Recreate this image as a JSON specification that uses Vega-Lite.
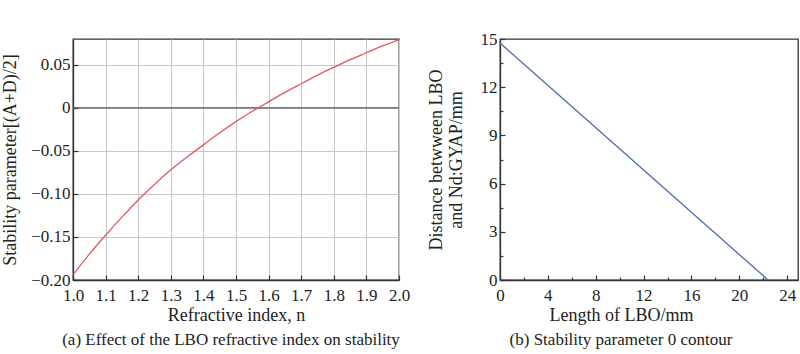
{
  "$schema": "https://vega.github.io/schema/vega-lite/v6.json",
  "padding": {"left": 1, "top": 29, "right": 2, "bottom": 2},
  "background": "white",
  "config": {
    "font": "Liberation Serif",
    "view": {"stroke": "#333333", "strokeWidth": 1.3},
    "axis": {
      "labelFont": "Liberation Serif",
      "titleFont": "Liberation Serif",
      "labelFontSize": 17,
      "titleFontSize": 18,
      "titleFontWeight": "normal",
      "labelColor": "#222222",
      "titleColor": "#222222",
      "domainColor": "#333333",
      "domainWidth": 1.3,
      "tickColor": "#333333",
      "tickWidth": 1.2
    },
    "title": {"font": "Liberation Serif", "fontSize": 17, "fontWeight": "normal", "color": "#222222"}
  },
  "datasets": {
    "stab": [
      {"n": 1.0, "s": -0.194},
      {"n": 1.05, "s": -0.170},
      {"n": 1.1, "s": -0.148},
      {"n": 1.15, "s": -0.127},
      {"n": 1.2, "s": -0.107},
      {"n": 1.25, "s": -0.089},
      {"n": 1.3, "s": -0.072},
      {"n": 1.35, "s": -0.057},
      {"n": 1.4, "s": -0.043},
      {"n": 1.45, "s": -0.029},
      {"n": 1.5, "s": -0.016},
      {"n": 1.55, "s": -0.004},
      {"n": 1.6, "s": 0.007},
      {"n": 1.65, "s": 0.018},
      {"n": 1.7, "s": 0.028},
      {"n": 1.75, "s": 0.038},
      {"n": 1.8, "s": 0.047},
      {"n": 1.85, "s": 0.056},
      {"n": 1.9, "s": 0.064},
      {"n": 1.95, "s": 0.072},
      {"n": 2.0, "s": 0.079}
    ],
    "zero": [{"z": 0}],
    "contour": [
      {"L": 0, "d": 14.75},
      {"L": 22.4, "d": 0}
    ]
  },
  "hconcat": [
    {
      "width": 326,
      "height": 241,
      "title": {"text": "(a) Effect of the LBO refractive index on stability", "orient": "bottom", "dx": -5, "offset": 8},
      "layer": [
        {
          "data": {"name": "zero"},
          "mark": {"type": "rule", "color": "#555555", "strokeWidth": 1.2},
          "encoding": {"y": {"field": "z", "type": "quantitative", "scale": {"domain": [-0.2, 0.08], "nice": false, "zero": false}}}
        },
        {
          "data": {"name": "stab"},
          "mark": {"type": "line", "color": "#e05a5c", "strokeWidth": 1.3, "interpolate": "monotone", "clip": true},
          "encoding": {
            "x": {
              "field": "n", "type": "quantitative",
              "scale": {"domain": [1.0, 2.0], "nice": false, "zero": false},
              "axis": {
                "title": "Refractive index, n",
                "values": [1.0, 1.1, 1.2, 1.3, 1.4, 1.5, 1.6, 1.7, 1.8, 1.9, 2.0],
                "format": ".1f",
                "tickSize": -5,
                "labelPadding": 12,
                "titlePadding": 3,
                "grid": true,
                "gridColor": "#c8c8c8",
                "gridWidth": 1,
                "labelFlush": false
              }
            },
            "y": {
              "field": "s", "type": "quantitative",
              "scale": {"domain": [-0.2, 0.08], "nice": false, "zero": false},
              "axis": {
                "title": "Stability parameter[(A+D)/2]",
                "values": [-0.2, -0.15, -0.1, -0.05, 0, 0.05],
                "labelExpr": "datum.value == 0 ? '0' : format(datum.value, '.2f')",
                "tickSize": -5,
                "labelPadding": 8,
                "titlePadding": 11,
                "grid": true,
                "gridColor": "#c8c8c8",
                "gridWidth": 1,
                "labelFlush": false
              }
            }
          }
        }
      ]
    },
    {
      "width": 298,
      "height": 241,
      "title": {"text": "(b) Stability parameter 0 contour", "orient": "bottom", "dx": -28, "offset": 8},
      "data": {"name": "contour"},
      "layer": [
        {
          "mark": {"type": "line", "color": "#4a6cb3", "strokeWidth": 1.3},
          "encoding": {
            "x": {
              "field": "L", "type": "quantitative",
              "scale": {"domain": [0, 24.9], "nice": false},
              "axis": {
                "title": "Length of LBO/mm",
                "values": [0, 4, 8, 12, 16, 20, 24],
                "tickSize": -5,
                "labelPadding": 12,
                "titlePadding": 3,
                "titleX": 121,
                "grid": false,
                "labelFlush": false
              }
            },
            "y": {
              "field": "d", "type": "quantitative",
              "scale": {"domain": [0, 15], "nice": false},
              "axis": {
                "title": ["Distance betwween LBO", "and Nd:GYAP/mm"],
                "titleLineHeight": 20,
                "values": [0, 3, 6, 9, 12, 15],
                "tickSize": -5,
                "labelPadding": 8,
                "titlePadding": 15,
                "grid": false,
                "labelFlush": false
              }
            }
          }
        },
        {
          "mark": {"type": "line", "opacity": 0},
          "encoding": {
            "x": {
              "field": "L", "type": "quantitative",
              "axis": {"orient": "bottom", "values": [2, 6, 10, 14, 18, 22], "labels": false, "domain": false, "title": null, "tickSize": -3, "grid": false}
            },
            "y": {
              "field": "d", "type": "quantitative",
              "axis": {"orient": "left", "values": [1.5, 4.5, 7.5, 10.5, 13.5], "labels": false, "domain": false, "title": null, "tickSize": -3, "grid": false}
            }
          }
        }
      ],
      "resolve": {"axis": {"x": "independent", "y": "independent"}}
    }
  ],
  "spacing": 101,
  "bounds": "flush"
}
